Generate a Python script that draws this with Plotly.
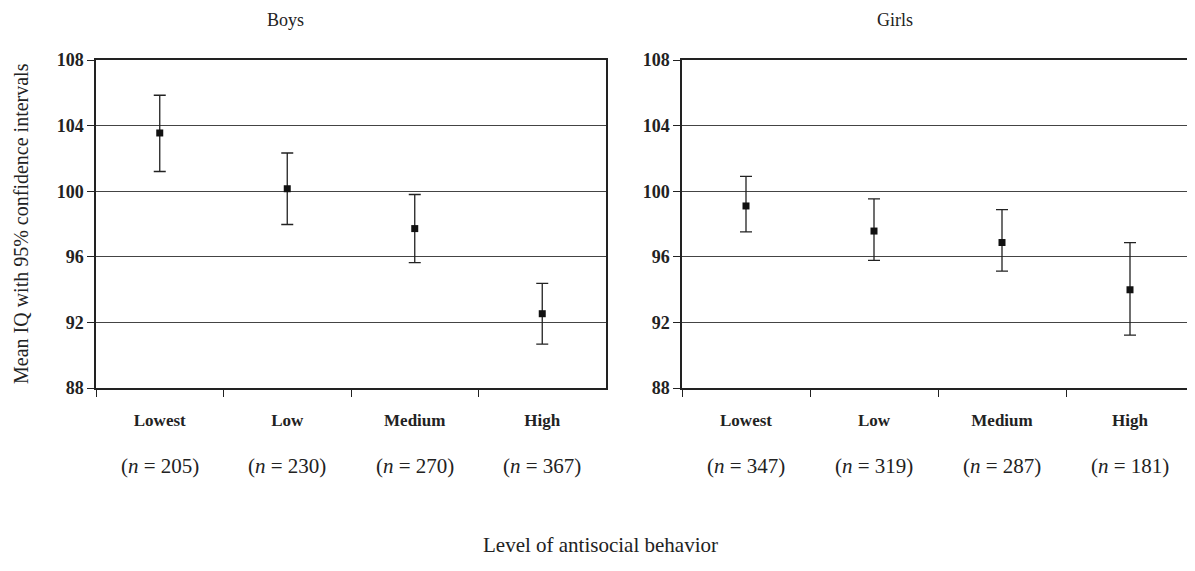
import plotly.graph_objects as go

levels = ["Lowest", "Low", "Medium", "High"]
boys_mean = [103.55, 100.15, 97.72, 92.53]
boys_upper = [105.85, 102.33, 99.80, 94.38]
boys_lower = [101.20, 97.97, 95.65, 90.68]
boys_n = [205, 230, 270, 367]
girls_mean = [99.10, 97.57, 96.87, 93.99]
girls_upper = [100.91, 99.53, 98.88, 96.87]
girls_lower = [97.52, 95.78, 95.13, 91.23]
girls_n = [347, 319, 287, 181]
y_ticks = [88, 92, 96, 100, 104, 108]

# the page body adds an 8px margin, so lay out in window pixels minus that offset
OFF = 8
W, H = 1195 - OFF, 571 - OFF
FONT = "Liberation Serif"
INK = "#222222"


def px(x):
    return (x - OFF) / W


def py(y):
    return 1 - (y - OFF) / H


def trace(mean, upper, lower, xa, ya):
    return go.Scatter(
        x=levels, y=mean, xaxis=xa, yaxis=ya, mode="markers",
        marker=dict(symbol="square", size=7, color="#111111"),
        error_y=dict(type="data", symmetric=False,
                     array=[u - m for u, m in zip(upper, mean)],
                     arrayminus=[m - l for m, l in zip(mean, lower)],
                     color="#222222", thickness=1.3, width=6),
        hoverinfo="skip",
    )


fig = go.Figure()
fig.add_trace(trace(boys_mean, boys_upper, boys_lower, "x", "y"))
fig.add_trace(trace(girls_mean, girls_upper, girls_lower, "x2", "y2"))

xcommon = dict(type="category", categoryorder="array", categoryarray=levels,
               range=[-0.5, 3.5], tickson="boundaries", ticks="outside",
               ticklen=7, tickcolor=INK, tickwidth=1.2,
               tickvals=levels, ticktext=["<b>%s</b>" % c for c in levels],
               tickfont=dict(family=FONT, size=17, color=INK),
               ticklabelstandoff=16,
               showline=True, linecolor=INK, linewidth=1.5, mirror=True,
               showgrid=False, zeroline=False, fixedrange=True, automargin=False)
ycommon = dict(range=[88, 108], tickvals=y_ticks, ticktext=["<b>%d</b>" % v for v in y_ticks],
               ticks="outside", ticklen=7, tickcolor=INK, tickwidth=1.2,
               tickfont=dict(family=FONT, size=18, color=INK),
               showline=True, linecolor=INK, linewidth=1.5, mirror=True,
               showgrid=True, gridcolor="#444444", gridwidth=1,
               zeroline=False, fixedrange=True, automargin=False)

x1 = [px(96), px(606)]
x2 = [px(682), min(px(1194), 1.0)]
yd = [py(388), py(60)]


def ann(text, x, y, size, xref="paper", **kw):
    return dict(text=text, x=x, y=y, xref=xref, yref="paper", showarrow=False,
                xanchor="center", yanchor="middle",
                font=dict(family=FONT, size=size, color=INK), **kw)


annotations = [
    ann("Boys", px(285), py(20), 18),
    ann("Girls", px(895), py(20), 18),
    ann("Level of antisocial behavior", px(600), py(545), 21),
    ann("Mean IQ with 95% confidence intervals", px(21), py(224), 20, textangle=-90),
]
for xr, ns in (("x", boys_n), ("x2", girls_n)):
    for c, n in zip(levels, ns):
        annotations.append(ann("(<i>n</i> = %d)" % n, c, py(466), 21, xref=xr))

fig.update_layout(
    width=W, height=H, margin=dict(l=0, r=0, t=0, b=0),
    paper_bgcolor="white", plot_bgcolor="white", showlegend=False,
    font=dict(family=FONT, color=INK),
    xaxis=dict(domain=x1, anchor="y", **xcommon),
    xaxis2=dict(domain=x2, anchor="y2", **xcommon),
    yaxis=dict(domain=yd, anchor="x", **ycommon),
    yaxis2=dict(domain=yd, anchor="x2", **ycommon),
    annotations=annotations,
)

fig.write_html("out.html")
